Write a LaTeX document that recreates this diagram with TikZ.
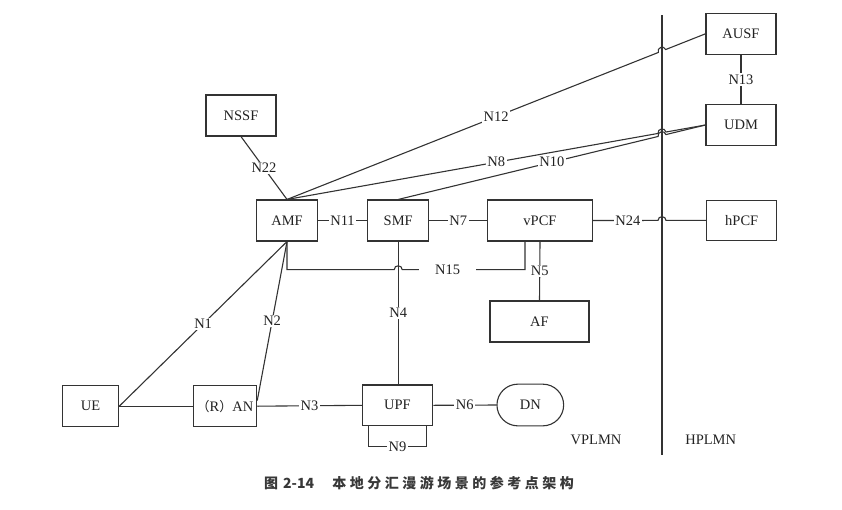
\documentclass[tikz,border=0pt]{standalone}
\usepackage{fontspec}
\setmainfont{Liberation Serif}
\newfontfamily\cjkfont{Noto Sans CJK SC}
\newfontfamily\cjkwide[LetterSpace=25]{Noto Sans CJK SC}
\usetikzlibrary{calc,intersections,shapes.misc}
\definecolor{nline}{HTML}{333333}
\definecolor{ntext}{HTML}{222222}
\tikzset{
  nf/.style={draw=nline,line width=1.1pt,fill=white,text=ntext,minimum width=70pt,minimum height=41pt,inner sep=2pt,font=\fontsize{14.5}{16}\selectfont},
  link/.style={draw=nline,line width=1.1pt},
  lbl/.style={fill=white,text=ntext,inner sep=1.5pt,font=\fontsize{14.5}{16}\selectfont},
  zone/.style={text=ntext,font=\fontsize{14.5}{16}\selectfont},
  hop/.style={bend left=90,looseness=1.6},
}

\begin{document}
\begin{tikzpicture}[x=1pt,y=-1pt]
  \useasboundingbox (0,0) rectangle (842,509);
  % visited network
  \node[nf] (nssf) at (241,115.5) {NSSF};
  \node[nf,minimum width=60.6pt] (amf) at (287,220.5) {AMF};
  \node[nf,minimum width=61pt] (smf) at (398.2,220.5) {SMF};
  \node[nf,minimum width=104.6pt] (vpcf) at (540,220.5) {vPCF};
  \node[nf,minimum width=99pt] (af) at (539.5,321.5) {AF};
  \node[nf,minimum width=70.4pt,minimum height=40.7pt] (upf) at (397.5,405.3) {UPF};
  \node[nf,rounded rectangle,minimum width=70.7pt,minimum height=41.7pt] (dn) at (530.3,405) {DN};
  \node[nf,minimum width=56.4pt] (ue) at (90.5,406.2) {UE};
  \node[nf,minimum width=63.4pt] (ran) at (225,406.2) {{\cjkfont\fontsize{13}{16}\selectfont （}R{\cjkfont\fontsize{13}{16}\selectfont ）}AN};
  % home network
  \node[nf] (ausf) at (741,33.8) {AUSF};
  \node[nf,minimum height=41.4pt] (udm) at (741,125) {UDM};
  \node[nf,minimum height=40.7pt] (hpcf) at (741.7,220.4) {hPCF};
  \node[zone] (vplmn) at (596,440) {VPLMN};
  \node[zone] (hplmn) at (710.7,440) {HPLMN};

  \coordinate (vtop) at (662,15);
  \coordinate (vbot) at (662,455);
  \draw[link,name path=vline] (vtop) -- (vbot);

  \draw[link] (nssf.south) -- node[lbl]{N22} (amf.north);
  \draw[link] (ausf.south) -- node[lbl]{N13} (udm.north);
  \draw[link] (amf.east) -- node[lbl]{N11} (smf.west);
  \draw[link] (smf.east) -- node[lbl]{N7} (vpcf.west);
  \draw[link] (vpcf.south) -- node[lbl]{N5} (af.north);
  \draw[link] (smf.south) -- node[lbl]{N4} (smf.south |- upf.north);
  \draw[link] (ue.east) -- node[lbl]{N1} (amf.south);
  \draw[link] (ran.10) -- node[lbl]{N2} (amf.south);
  \draw[link] (ue.east) -- (ran.west);
  \draw[link] (ran.east) -- node[lbl]{N3} (upf.west);
  \draw[link] (upf.east) -- node[lbl]{N6} (dn.west);
  \draw[link] ($(upf.south west)+(7,0)$) |- node[lbl,pos=.75]{N9} ($(upf.south east)+(-7,20.3)$) -- ($(upf.south east)+(-7,0)$);

  % N15 hops over N4
  \coordinate (c15) at ($(vpcf.south)+(-15,28)$);
  \coordinate (j15) at (smf.south |- c15);
  \draw[link] (amf.south) |- ($(j15)+(-4,0)$) to[hop] ($(j15)+(4,0)$)
    -- node[lbl,pos=.37,inner xsep=16pt]{N15} (c15) -- (c15 |- vpcf.south);

  % lines crossing into the home network
  \path[name path=p12] (amf.north) -- (ausf.west);
  \path[name path=p8] (amf.north) -- (udm.west);
  \path[name path=p10] (smf.north) -- (udm.west);
  \path[name path=p24] (vpcf.east) -- (hpcf.west);
  \path[name intersections={of=vline and p12,by=j12}];
  \path[name intersections={of=vline and p8,by=j8}];
  \path[name intersections={of=vline and p10,by=j10}];
  \path[name intersections={of=vline and p24,by=j24}];
  \draw[link] (amf.north) -- ($(j12)!4pt!(amf.north)$) to[hop] ($(j12)!4pt!(ausf.west)$) -- (ausf.west);
  \draw[link] (amf.north) -- ($(j8)!4pt!(amf.north)$) to[hop] ($(j8)!4pt!(udm.west)$) -- (udm.west);
  \draw[link] (smf.north) -- ($(j10)!4pt!(smf.north)$) to[hop] ($(j10)!4pt!(udm.west)$) -- (udm.west);
  \draw[link] (vpcf.east) -- ($(j24)!4pt!(vpcf.east)$) to[hop] ($(j24)!4pt!(hpcf.west)$) -- (hpcf.west);
  \node[lbl] at ($(amf.north)!.5!(ausf.west)$) {N12};
  \node[lbl] at ($(amf.north)!.5!(udm.west)$) {N8};
  \node[lbl] at ($(smf.north)!.5!(udm.west)$) {N10};
  \node[lbl] at ($(vpcf.east)!.31!(hpcf.west)$) {N24};

  \node[text=ntext!90,font=\cjkfont\bfseries\fontsize{14}{16}\selectfont] (cap) at (419,483) {图\hspace{0.35em}2-14\hspace{1.3em}{\cjkwide 本地分汇漫游场景的参考点架构}};
\end{tikzpicture}
\end{document}
